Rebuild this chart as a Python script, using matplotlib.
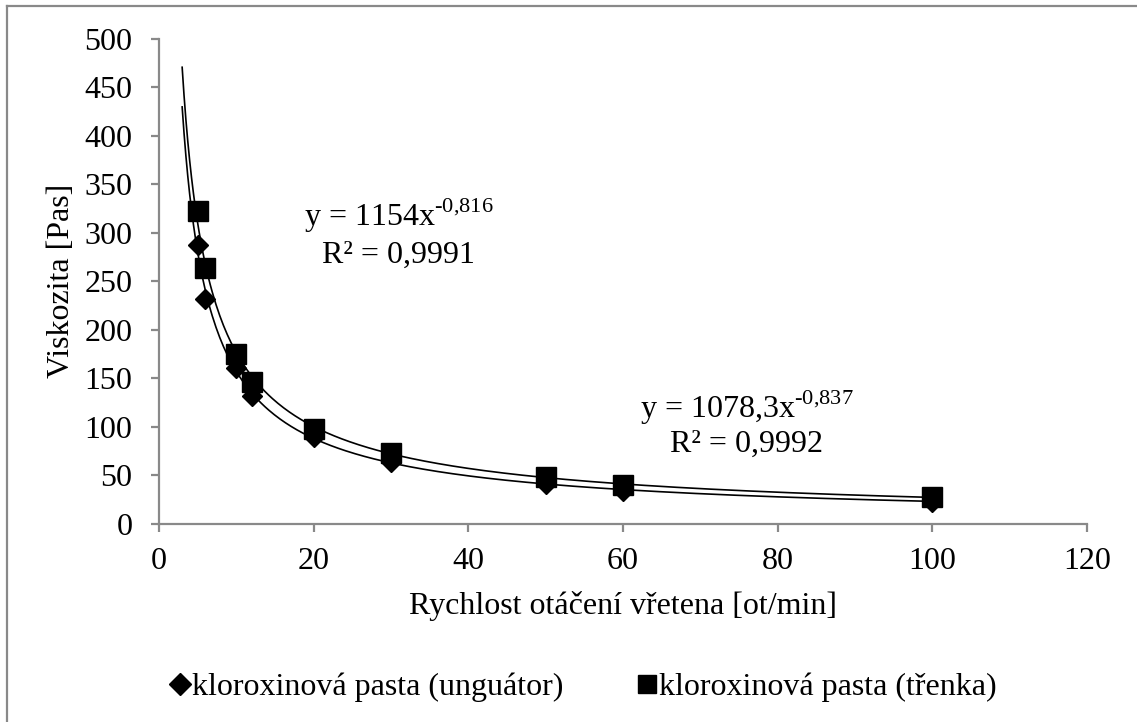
import numpy as np
import matplotlib.pyplot as plt
from matplotlib.lines import Line2D

## data
speed = [5, 6, 10, 12, 20, 30, 50, 60, 100]                       # ot/min
visc_unguator = [287, 232, 160, 132, 89, 63, 41, 34, 22]         # Pas
visc_trenka   = [323, 264, 175, 146, 98, 73, 48, 40, 27]         # Pas

# power trendlines as printed in the chart (y = a * x^b)
fit_unguator = (1078.3, -0.837)
fit_trenka   = (1154.0, -0.816)
trend_start, trend_end = 3, 100

lbl_unguator = 'kloroxinová pasta (unguátor)'
lbl_trenka   = 'kloroxinová pasta (třenka)'

## style
plt.rcParams['font.family'] = ['Liberation Serif', 'DejaVu Serif']
plt.rcParams['mathtext.fontset'] = 'custom'
plt.rcParams['mathtext.rm'] = 'Liberation Serif'
fs = 23
grey = '#898989'

fig = plt.figure(figsize=(11.37, 7.22), dpi=100)
ax = fig.add_axes([0.1398, 0.2749, 0.8162, 0.6711])

# trendlines
xt = np.linspace(trend_start, trend_end, 400)
for a, b in (fit_unguator, fit_trenka):
    ax.plot(xt, a * xt**b, color='black', lw=1.2, zorder=2)

# markers
ax.plot(speed, visc_unguator, ls='none', marker='D', ms=10.5, color='black', zorder=3)
ax.plot(speed, visc_trenka, ls='none', marker='s', ms=15, color='black', zorder=4)

# axes formatting
ax.set_xlim(0, 120)
ax.set_ylim(0, 500)
ax.set_xticks(np.arange(0, 121, 20))
ax.set_yticks(np.arange(0, 501, 50))
for s in ('top', 'right'):
    ax.spines[s].set_visible(False)
for s in ('left', 'bottom'):
    ax.spines[s].set_color(grey)
    ax.spines[s].set_linewidth(1.6)
ax.tick_params(axis='both', colors=grey, labelcolor='black', labelsize=fs,
               length=6, width=1.6)
ax.tick_params(axis='x', pad=11)
ax.tick_params(axis='y', pad=13)

ax.set_xlabel('Rychlost otáčení vřetena [ot/min]', fontsize=fs, labelpad=11)
ax.set_ylabel('Viskozita [Pas]', fontsize=fs, labelpad=6)

# trendline equations
ax.text(31, 307, 'y = 1154x$^{\u2010\\mathrm{0{,}816}}$', fontsize=fs, ha='center', va='baseline')
ax.text(31, 269, 'R² = 0,9991', fontsize=fs, ha='center', va='baseline')
ax.text(76, 109, 'y = 1078,3x$^{\u2010\\mathrm{0{,}837}}$', fontsize=fs, ha='center', va='baseline')
ax.text(76, 74, 'R² = 0,9992', fontsize=fs, ha='center', va='baseline')

# legend
handles = [Line2D([], [], ls='none', marker='D', ms=11, color='black'),
           Line2D([], [], ls='none', marker='s', ms=13, color='black')]
fig.legend(handles, [lbl_unguator, lbl_trenka], loc='center',
           bbox_to_anchor=(0.513, 0.048), ncol=2, frameon=False, fontsize=fs,
           handlelength=0.65, handletextpad=0.05, columnspacing=2.3)

# chart-area border (only left and top edges visible in the crop)
fig.add_artist(Line2D([0.0062, 0.0062], [0, 0.9917], transform=fig.transFigure,
                      color=grey, lw=1.6))
fig.add_artist(Line2D([0.0062, 1], [0.9917, 0.9917], transform=fig.transFigure,
                      color=grey, lw=1.6))

fig.savefig('out.png', dpi=100)
